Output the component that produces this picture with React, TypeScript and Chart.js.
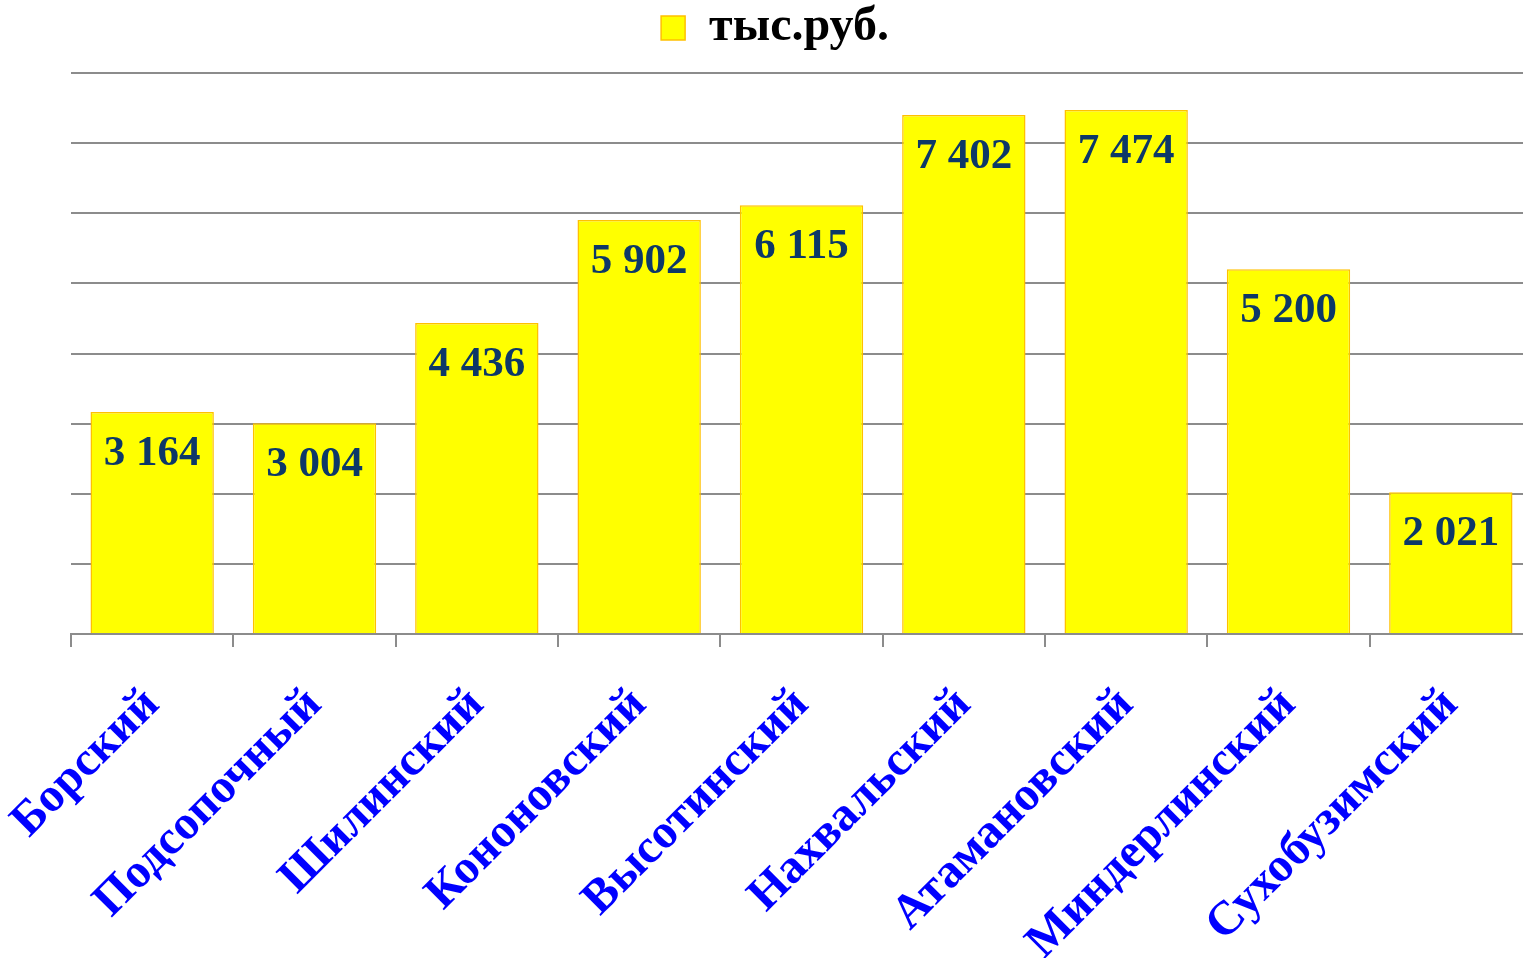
import React, { useEffect, useRef } from 'react';
import { Chart, registerables } from 'chart.js';

Chart.register(...registerables);

const categories = [
  'Борский',
  'Подсопочный',
  'Шилинский',
  'Кононовский',
  'Высотинский',
  'Нахвальский',
  'Атамановский',
  'Миндерлинский',
  'Сухобузимский',
];
const values = [3164, 3004, 4436, 5902, 6115, 7402, 7474, 5200, 2021];
const seriesName = 'тыс.руб.';
const yMin = 0;
const yMax = 8000;
const yStep = 1000;

const SERIF = "'Liberation Serif', 'Times New Roman', serif";
const GRID = '#8c8c8c';

const fmt = (v: number) => String(v).replace(/\B(?=(\d{3})+(?!\d))/g, ' ');

const valueLabels = {
  id: 'valueLabels',
  afterDatasetsDraw(chart: any) {
    const ctx = chart.ctx;
    const meta = chart.getDatasetMeta(0);
    const data = chart.data.datasets[0].data as number[];
    ctx.save();
    ctx.font = `bold 43px ${SERIF}`;
    ctx.fillStyle = '#0D3868';
    ctx.textAlign = 'center';
    ctx.textBaseline = 'alphabetic';
    meta.data.forEach((bar: any, i: number) => {
      ctx.fillText(fmt(data[i]), bar.x, bar.y + 53);
    });
    ctx.restore();
  },
};

const legendSpacer = {
  id: 'legendSpacer',
  beforeLayout(chart: any) {
    const legend = chart.legend;
    if (!legend || legend.__patched) return;
    const orig = legend.fit;
    legend.fit = function () {
      orig.call(this);
      this.height += 11;
    };
    legend.__patched = true;
  },
};

export default function App() {
  const ref = useRef<HTMLCanvasElement | null>(null);

  useEffect(() => {
    if (!ref.current) return;
    const chart = new Chart(ref.current, {
      type: 'bar',
      data: {
        labels: categories,
        datasets: [
          {
            label: seriesName,
            data: values,
            backgroundColor: '#FFFF00',
            borderColor: '#FFC000',
            borderWidth: 1.5,
            categoryPercentage: 1,
            barPercentage: 0.76,
          },
        ],
      },
      options: {
        responsive: false,
        animation: false,
        events: [],
        layout: { padding: 0 },
        plugins: {
          legend: {
            display: true,
            position: 'top',
            labels: {
              boxWidth: 24,
              boxHeight: 24,
              padding: 4,
              color: '#000000',
              font: { family: SERIF, size: 48, weight: 'bold' },
            },
          },
          tooltip: { enabled: false },
        },
        scales: {
          x: {
            offset: true,
            grid: {
              display: true,
              drawOnChartArea: false,
              drawTicks: true,
              tickLength: 13,
              color: GRID,
              lineWidth: 2,
              offset: true,
            },
            border: { display: true, color: GRID, width: 2 },
            ticks: {
              autoSkip: false,
              minRotation: 45,
              maxRotation: 45,
              color: '#0000FF',
              padding: 30,
              font: { family: SERIF, size: 48, weight: 'bold' },
            },
            afterFit: (s: any) => {
              s.height = 324;
              s.paddingLeft = 0;
              s.paddingRight = 0;
            },
          },
          y: {
            min: yMin,
            max: yMax,
            ticks: { display: false, stepSize: yStep },
            grid: { color: GRID, lineWidth: 2, drawTicks: false },
            border: { display: false },
            afterFit: (s: any) => {
              s.width = 71;
              s.paddingTop = 0;
              s.paddingBottom = 0;
            },
          },
          y2: {
            position: 'right',
            display: true,
            grid: { display: false },
            ticks: { display: false },
            border: { display: false },
            afterFit: (s: any) => {
              s.width = 18;
              s.paddingTop = 0;
              s.paddingBottom = 0;
            },
          },
        },
      },
      plugins: [valueLabels, legendSpacer],
    } as any);
    return () => chart.destroy();
  }, []);

  return (
    <div
      style={{
        position: 'fixed',
        left: 0,
        top: 0,
        width: 1523,
        height: 958,
        overflow: 'hidden',
        background: '#ffffff',
      }}
    >
      <canvas ref={ref} width={1550} height={958} style={{ width: 1550, height: 958, display: 'block' }} />
    </div>
  );
}
